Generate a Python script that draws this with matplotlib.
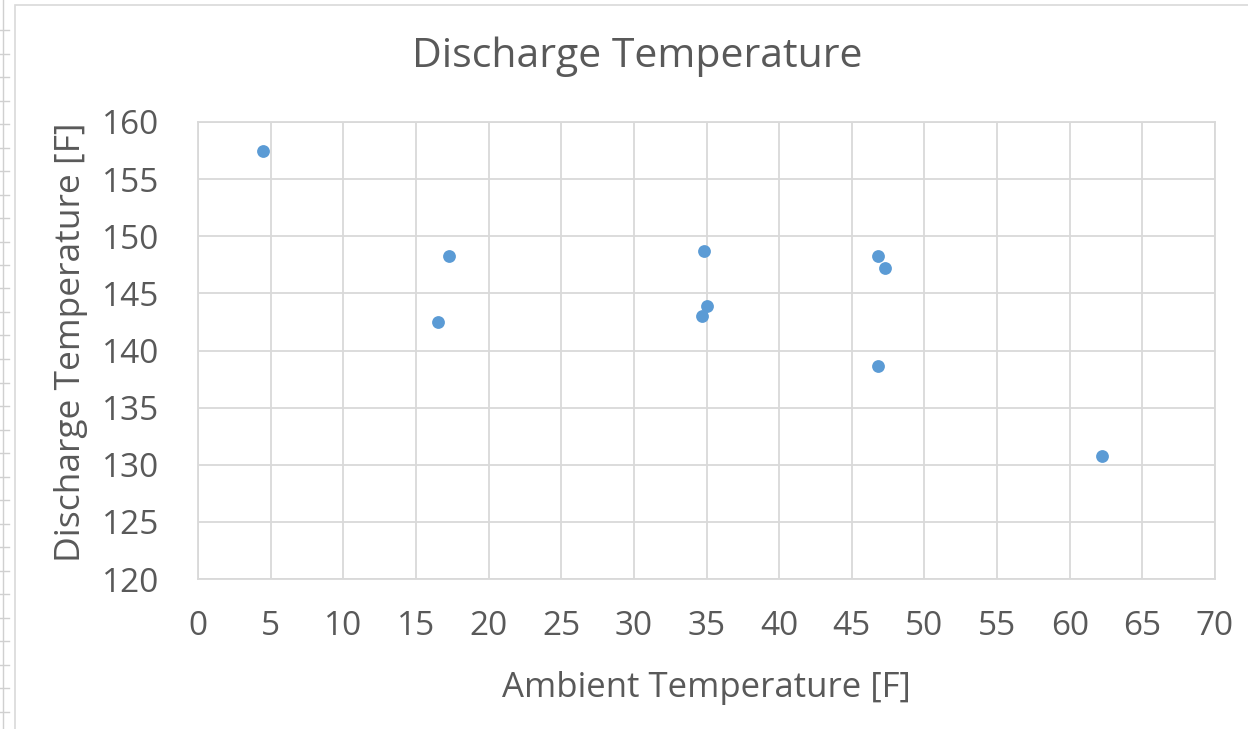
import matplotlib
matplotlib.use("Agg")
import matplotlib.pyplot as plt
from matplotlib.lines import Line2D
from matplotlib.patches import Rectangle

ambient = [4.5, 17.3, 16.5, 34.8, 35.0, 34.7, 46.8, 47.3, 46.8, 62.2]
discharge = [157.5, 148.3, 142.5, 148.7, 143.9, 143.0, 148.3, 147.2, 138.6, 130.8]
x_ticks = list(range(0, 71, 5))
y_ticks = list(range(120, 161, 5))

plt.rcParams['font.family'] = ['Open Sans', 'DejaVu Sans']
text_color = '#595959'
W, H = 1248, 729

fig = plt.figure(figsize=(W / 100, H / 100), dpi=100)
# chart border
fig.patches.append(Rectangle((15 / W, -0.01), 1.02, 1 - 5 / H + 0.01, transform=fig.transFigure,
                             fill=False, edgecolor='#d9d9d9', linewidth=1.2))
# spreadsheet remnants on the left
fig.lines.append(Line2D([3 / W, 3 / W], [0, 1], transform=fig.transFigure, color='#d0d0d0', lw=1))
for i in range(31):
    yy = 1 - (30 + i * 23.5) / H
    fig.lines.append(Line2D([0, 9 / W], [yy, yy], transform=fig.transFigure, color='#d0d0d0', lw=1))

ax = fig.add_axes([198 / W, 1 - 579 / H, (1215 - 198) / W, (579 - 122) / H])
ax.scatter(ambient, discharge, s=85, color='#5b9bd5', zorder=3, linewidths=0)
ax.set_xlim(0, 70)
ax.set_ylim(120, 160)
ax.set_xticks(x_ticks)
ax.set_yticks(y_ticks)
ax.grid(True, color='#d9d9d9', linewidth=1.3)
ax.set_axisbelow(True)
for s in ax.spines.values():
    s.set_color('#d9d9d9')
    s.set_linewidth(1.3)
ax.tick_params(length=0, labelsize=24, labelcolor=text_color)
ax.tick_params(axis='y', pad=28)
ax.tick_params(axis='x', pad=22)

fig.text(706.5 / W, 1 - 697 / H, 'Ambient Temperature [F]', ha='center', va='baseline',
         fontsize=25, color=text_color)
fig.text(71 / W, 1 - 342 / H, 'Discharge Temperature [F]', ha='center', va='center',
         rotation=90, fontsize=25.5, color=text_color)
fig.text(637.5 / W, 1 - 67 / H, 'Discharge Temperature', ha='center', va='baseline',
         fontsize=29.5, color=text_color)

fig.savefig('out.png', dpi=100, facecolor='white')
